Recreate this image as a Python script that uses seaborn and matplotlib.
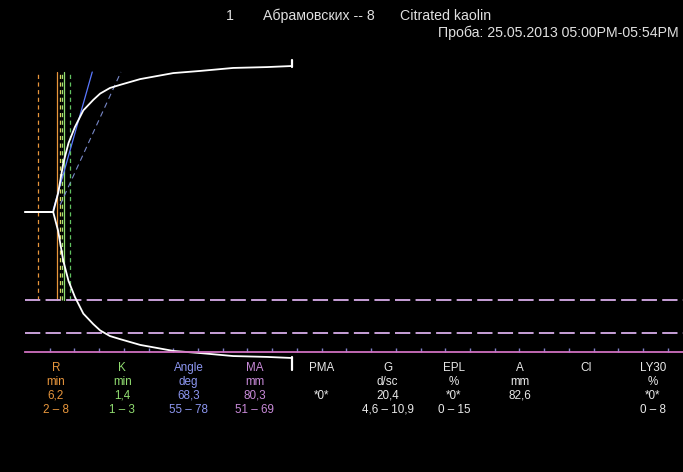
import numpy as np
import pandas as pd
import matplotlib
matplotlib.use("Agg")
import matplotlib.pyplot as plt
import seaborn as sns

# TEG tracing: time (min) vs amplitude (mm)
time_min = [0.0, 5.7, 6.7, 7.75, 8.8, 10.1, 11.8, 13.8, 15.2, 17.2, 19.2, 23.3, 30.0, 35.4, 42.1, 49.0, 54.0]
amplitude = [0.0, 0.0, 10.7, 27.7, 39.0, 48.1, 57.5, 63.4, 67.0, 70.2, 71.9, 75.2, 78.6, 79.8, 81.5, 82.0, 82.6]

# reference verticals (min) and their styles
ref_lines = [2.55, 6.4, 7.1, 7.45, 7.85, 9.2]
ref_colors = ["#e8963c", "#e8963c", "#d8d860", "#a8e070", "#90e070", "#60c060"]
ref_solid = [False, True, False, False, True, False]
ref_top = 39.6
ref_bottom = -24.9

# angle tangents: (t0, y0, t1, y1)
angle_line = (5.7, 0.6, 13.6, 39.6)
angle_norm = (7.1, 2.0, 19.4, 39.6)

ma_limits = [-24.9, -34.2]
axis_level = -39.6
t_end = 54.0

header_1 = ["1", "Абрамовских -- 8", "Citrated kaolin"]
header_2 = "Проба: 25.05.2013 05:00PM-05:54PM"

params = ["R", "K", "Angle", "MA", "PMA", "G", "EPL", "A", "CI", "LY30"]
units = ["min", "min", "deg", "mm", "", "d/sc", "%", "mm", "", "%"]
values = ["6,2", "1,4", "68,3", "80,3", "*0*", "20,4", "*0*", "82,6", "", "*0*"]
normals = ["2 – 8", "1 – 3", "55 – 78", "51 – 69", "", "4,6 – 10,9", "0 – 15", "", "", "0 – 8"]
param_colors = ["#e8963c", "#90dc70", "#8c96f0", "#c88ad8", "#e8e8e8",
                "#e8e8e8", "#e8e8e8", "#e8e8e8", "#e8e8e8", "#e8e8e8"]

sns.set_theme(style="dark", rc={"axes.facecolor": "black", "figure.facecolor": "black",
                                "lines.scale_dashes": False})
plt.rcParams["font.family"] = ["Liberation Sans", "DejaVu Sans"]

W, H = 683, 472
fig = plt.figure(figsize=(W / 100, H / 100), dpi=100)
ax = fig.add_axes([0, 0, 1, 1])
px_per_min = 4.944
px_per_mm = 3.535
ax.set_xlim(-25 / px_per_min, (W - 25) / px_per_min)
ax.set_ylim((212 - H) / px_per_mm, 212 / px_per_mm)

df = pd.DataFrame({"t": time_min, "half": np.array(amplitude) / 2})

# reference lines
for x, c, solid in zip(ref_lines, ref_colors, ref_solid):
    if solid:
        ax.plot([x, x], [ref_bottom, ref_top], color=c, lw=0.9)
    else:
        ax.plot([x, x], [ref_bottom, ref_top], color=c, lw=0.9, dashes=(3, 2.5))

ax.plot(angle_line[::2], angle_line[1::2], color="#5a78ff", lw=0.9)
ax.plot(angle_norm[::2], angle_norm[1::2], color="#7888c8", lw=0.8, dashes=(4, 3))

for y in ma_limits:
    ax.plot([0, 133.1], [y, y], color="#c8a0d8", lw=1.4, dashes=(11, 3.8))

# bottom axis line with 5-min ticks
ax.spines["bottom"].set_position(("data", axis_level))
ax.spines["bottom"].set_bounds(0, 133.1)
ax.spines["bottom"].set_color("#d070c0")
ax.spines["bottom"].set_linewidth(1.3)
for s in ["top", "left", "right"]:
    ax.spines[s].set_visible(False)
ax.set_xticks(np.arange(5, 135, 5))
ax.set_yticks([])
ax.tick_params(axis="x", bottom=True, direction="in", length=3, width=1,
               color="#8080c8", labelbottom=False)
ax.grid(False)

# tracing
sns.lineplot(data=df, x="t", y="half", color="white", lw=1.3, ax=ax, sort=False)
sns.lineplot(x=df["t"], y=-df["half"], color="white", lw=1.3, ax=ax, sort=False)
ax.plot([t_end, t_end], [40.9, 42.9], color="white", lw=1.6)
ax.plot([t_end, t_end], [-41.0, -44.7], color="white", lw=1.6)
ax.set_xlabel("")
ax.set_ylabel("")

# header
hs = 10.2
fig.text(226 / W, 1 - 16 / H, header_1[0], color="#e0e0e0", fontsize=hs, va="center")
fig.text(263 / W, 1 - 16 / H, header_1[1], color="#e0e0e0", fontsize=hs, va="center")
fig.text(400 / W, 1 - 16 / H, header_1[2], color="#e0e0e0", fontsize=hs, va="center")
fig.text(438 / W, 1 - 33 / H, header_2, color="#e0e0e0", fontsize=hs, va="center")

# parameter table
fs = 8.4
row_y = [368, 382, 396, 410]
for i, p in enumerate(params):
    cx = (56 + 66.3 * i) / W
    for ry, txt in zip(row_y, [p, units[i], values[i], normals[i]]):
        if txt:
            fig.text(cx, 1 - ry / H, txt, color=param_colors[i], fontsize=fs,
                     ha="center", va="center")

fig.savefig("out.png", dpi=100, facecolor="black")
